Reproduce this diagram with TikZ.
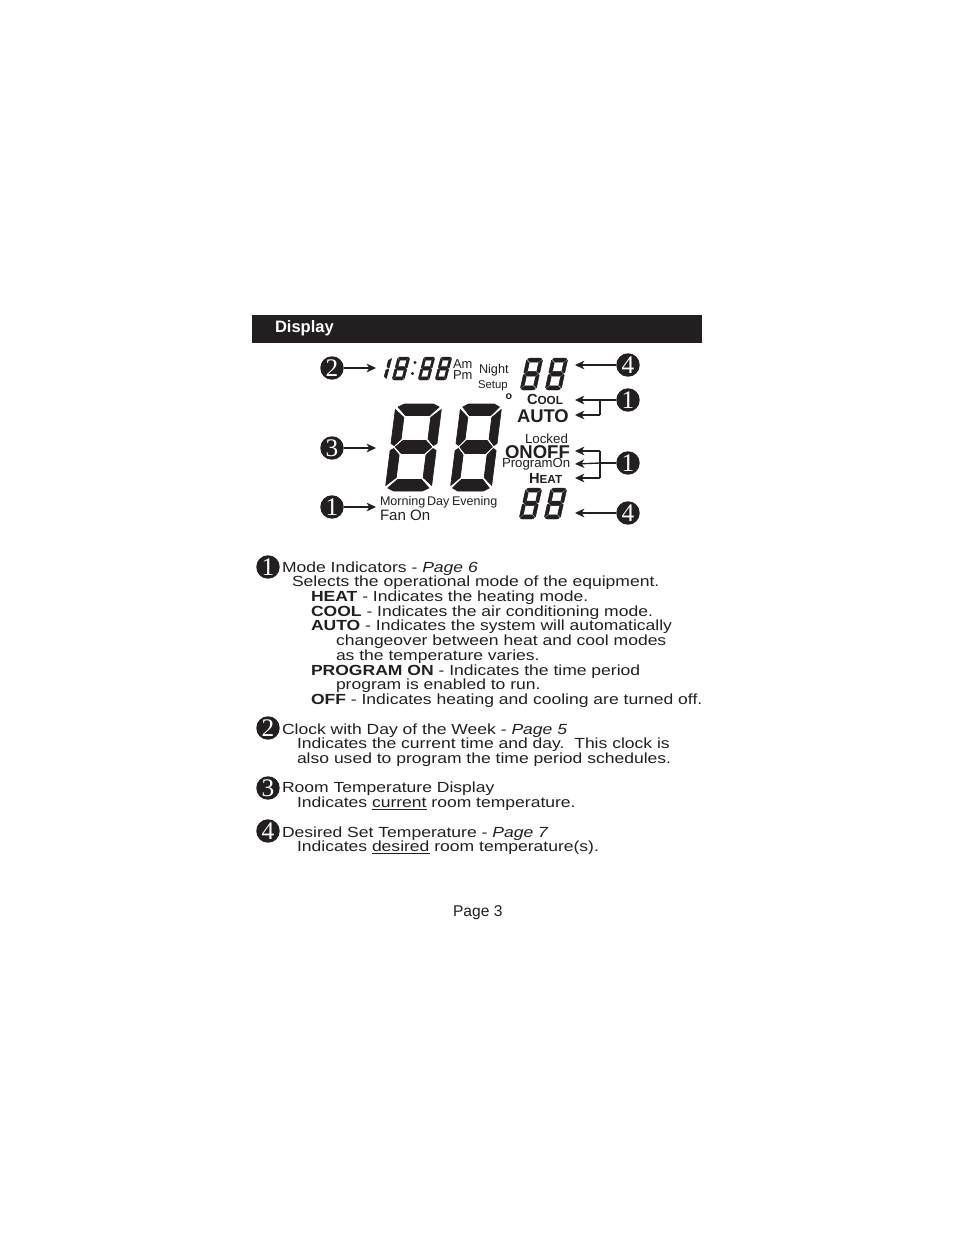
\documentclass[tikz,border=0pt]{standalone}
\usepackage{fontspec}
\setmainfont[FakeStretch=1.195]{Liberation Sans}
\newfontfamily\plainsans{Liberation Sans}
\newfontfamily\numfont{Liberation Serif}
\usetikzlibrary{arrows.meta}
\definecolor{ink}{HTML}{231F20}
\tikzset{
  txt/.style={anchor=base west,inner sep=0pt,outer sep=0pt,text=ink,font=\fontsize{11}{11}\selectfont},
  lab/.style={anchor=base west,inner sep=0pt,outer sep=0pt,text=ink,font=\plainsans\fontsize{#1}{#1}\selectfont},
  blab/.style={anchor=base west,inner sep=0pt,outer sep=0pt,text=ink,font=\plainsans\bfseries\fontsize{#1}{#1}\selectfont},
  badge/.style={circle,fill=ink,minimum size=17.6pt,inner sep=0pt,text=white,font=\numfont\fontsize{19}{19}\selectfont},
  lead/.style={draw=ink,line width=1pt,-{Stealth[length=7pt,width=6.5pt,inset=2pt]}},
  stem/.style={draw=ink,line width=1pt},
  seg/.style={fill=ink,draw=ink,line width=0.5pt,line join=round},
  segthin/.style={seg/.style={fill=ink,draw=ink,line width=0.35pt,line join=round}}
}
% seven segment figure: x of lower-left, y of bottom, width, height, slant in px
\newcommand{\segall}[5]{%
 \begin{scope}[shift={(#1,#2)},x=#3/48*0.75pt,y=#4/87*0.75pt,xslant=#5/#4]
  \path[seg] (9,87)--(39,87)--(45.5,84)--(36.5,75.5)--(11.5,75.5)--(2.5,84)--cycle;
  \path[seg] (12,50.5)--(36,50.5)--(43,44)--(36,37.5)--(12,37.5)--(5,44)--cycle;
  \path[seg] (9,0)--(39,0)--(45.5,3)--(36.5,11.5)--(11.5,11.5)--(2.5,3)--cycle;
  \path[seg] (0,81.5)--(10,73.5)--(10,52)--(3.5,45.5)--(0,47.5)--cycle;
  \path[seg] (0,5.5)--(10,13.5)--(10,36)--(3.5,42.5)--(0,40.5)--cycle;
  \path[seg] (48,81.5)--(38,73.5)--(38,52)--(44.5,45.5)--(48,47.5)--cycle;
  \path[seg] (48,5.5)--(38,13.5)--(38,36)--(44.5,42.5)--(48,40.5)--cycle;
 \end{scope}}
\newcommand{\segone}[5]{%
 \begin{scope}[shift={(#1,#2)},x=#3/48*0.75pt,y=#4/87*0.75pt,xslant=#5/#4]
  \path[seg] (48,81.5)--(38,73.5)--(38,52)--(44.5,45.5)--(48,47.5)--cycle;
  \path[seg] (48,5.5)--(38,13.5)--(38,36)--(44.5,42.5)--(48,40.5)--cycle;
 \end{scope}}
\newcommand{\smallpart}[2]{{\fontsize{#1}{#1}\selectfont #2}}
\begin{document}
\begin{tikzpicture}[x=0.75pt,y=-0.75pt]
\useasboundingbox (0,0) rectangle (954,1235);
% header
\fill[ink] (252,315) rectangle (702,343);
\node[blab=12.4,text=white] (title) at (275,332) {Display};

% seven segment figures
\segall{385}{491}{46}{87}{11}
\segall{450}{491}{41}{87}{11}
\begin{scope}[segthin]
\segone{373}{380}{13}{23}{6}
\segall{392}{380}{12}{23}{6}
\segall{418}{380}{11}{23}{6}
\segall{435}{380}{11}{23}{6}
\fill[ink] (415,362.5) circle (1.7);
\fill[ink] (412.5,373.5) circle (1.7);
\segall{520}{390}{16}{32}{7}
\segall{545}{390}{16}{32}{7}
\segall{519}{519}{16}{31}{7}
\segall{544}{519}{16}{31}{7}
\end{scope}

% display labels
\node[lab=9.7] (am) at (453,368) {Am};
\node[lab=9.7] (pm) at (453,379) {Pm};
\node[lab=9.5] (night) at (479,373) {Night};
\node[lab=8.5] (setup) at (478,388) {Setup};
\node[blab=8] (deg) at (505.5,399) {o};
\node[blab=11] (cool) at (527,404) {C\smallpart{8.8}{OOL}};
\node[blab=13.8] (auto) at (517,422) {AUTO};
\node[lab=10] (locked) at (525,443) {Locked};
\node[blab=13.9] (onoff) at (505,458) {ONOFF};
\node[lab=9.9] (progon) at (502,467) {ProgramOn};
\node[blab=11] (heat) at (529,483) {H\smallpart{8.8}{EAT}};
\node[lab=9.4] (morning) at (380,505) {Morning};
\node[lab=9.4] (day) at (427,505) {Day};
\node[lab=9.4] (evening) at (452,505) {Evening};
\node[lab=11.3] (fan) at (380,520) {Fan On};

% badges beside the display
\node[badge] (b2) at (332,368) {2};
\node[badge] (b3) at (332,448) {3};
\node[badge] (b1a) at (332,507) {1};
\node[badge] (b4a) at (628,365) {4};
\node[badge] (b1b) at (628,400) {1};
\node[badge] (b1c) at (628,463) {1};
\node[badge] (b4b) at (628,513) {4};

% arrow ends
\coordinate (t2) at (376,368);
\coordinate (t3) at (376,448);
\coordinate (t1a) at (376,507);
\coordinate (t4a) at (575,365);
\coordinate (t4b) at (575,513);
\coordinate (tcool) at (575,400);
\coordinate (tauto) at (575,415);
\coordinate (jb) at (600,400);
\coordinate (jbl) at (600,415);
\coordinate (tonoff) at (575,451);
\coordinate (tprog) at (575,464);
\coordinate (theat) at (575,478);
\coordinate (jc) at (600,463);
\coordinate (jct) at (600,451);
\coordinate (jcb) at (600,478);

\draw[lead] (b2) -- (t2);
\draw[lead] (b3) -- (t3);
\draw[lead] (b1a) -- (t1a);
\draw[lead] (b4a) -- (t4a);
\draw[lead] (b4b) -- (t4b);
\draw[lead] (b1b) -- (tcool);
\draw[stem] (jb) -- (jbl);
\draw[lead] (jbl) -- (tauto);
\draw[stem] (b1c) -- (jc);
\draw[stem] (jct) -- (jcb);
\draw[lead] (jct) -- (tonoff);
\draw[lead] (jc) -- (tprog);
\draw[lead] (jcb) -- (theat);

% legend
\node[badge] (k1) at (268,567) {1};
\node[badge] (k2) at (268,728) {2};
\node[badge] (k3) at (268,788) {3};
\node[badge] (k4) at (268,831) {4};

\node[txt] (l1) at (282,572) {Mode Indicators - \textit{Page 6}};
\node[txt] (l2) at (292,586) {Selects the operational mode of the equipment.};
\node[txt] (l3) at (311,601) {\textbf{HEAT} - Indicates the heating mode.};
\node[txt] (l4) at (311,616) {\textbf{COOL} - Indicates the air conditioning mode.};
\node[txt] (l5) at (311,630) {\textbf{AUTO} - Indicates the system will automatically};
\node[txt] (l6) at (336,645) {changeover between heat and cool modes};
\node[txt] (l7) at (336,660) {as the temperature varies.};
\node[txt] (l8) at (311,675) {\textbf{PROGRAM ON} - Indicates the time period};
\node[txt] (l9) at (336,689) {program is enabled to run.};
\node[txt] (l10) at (311,704) {\textbf{OFF} - Indicates heating and cooling are turned off.};
\node[txt] (l11) at (282,734) {Clock with Day of the Week - \textit{Page 5}};
\node[txt] (l12) at (297,748) {Indicates the current time and day.\ \ This clock is};
\node[txt] (l13) at (297,763) {also used to program the time period schedules.};
\node[txt] (l14) at (282,792) {Room Temperature Display};
\node[txt] (l15) at (297,807) {Indicates \underline{current} room temperature.};
\node[txt] (l16) at (282,837) {Desired Set Temperature - \textit{Page 7}};
\node[txt] (l17) at (297,851) {Indicates \underline{desired} room temperature(s).};
\node[lab=11.7] (page) at (453,916) {Page 3};
\end{tikzpicture}
\end{document}
